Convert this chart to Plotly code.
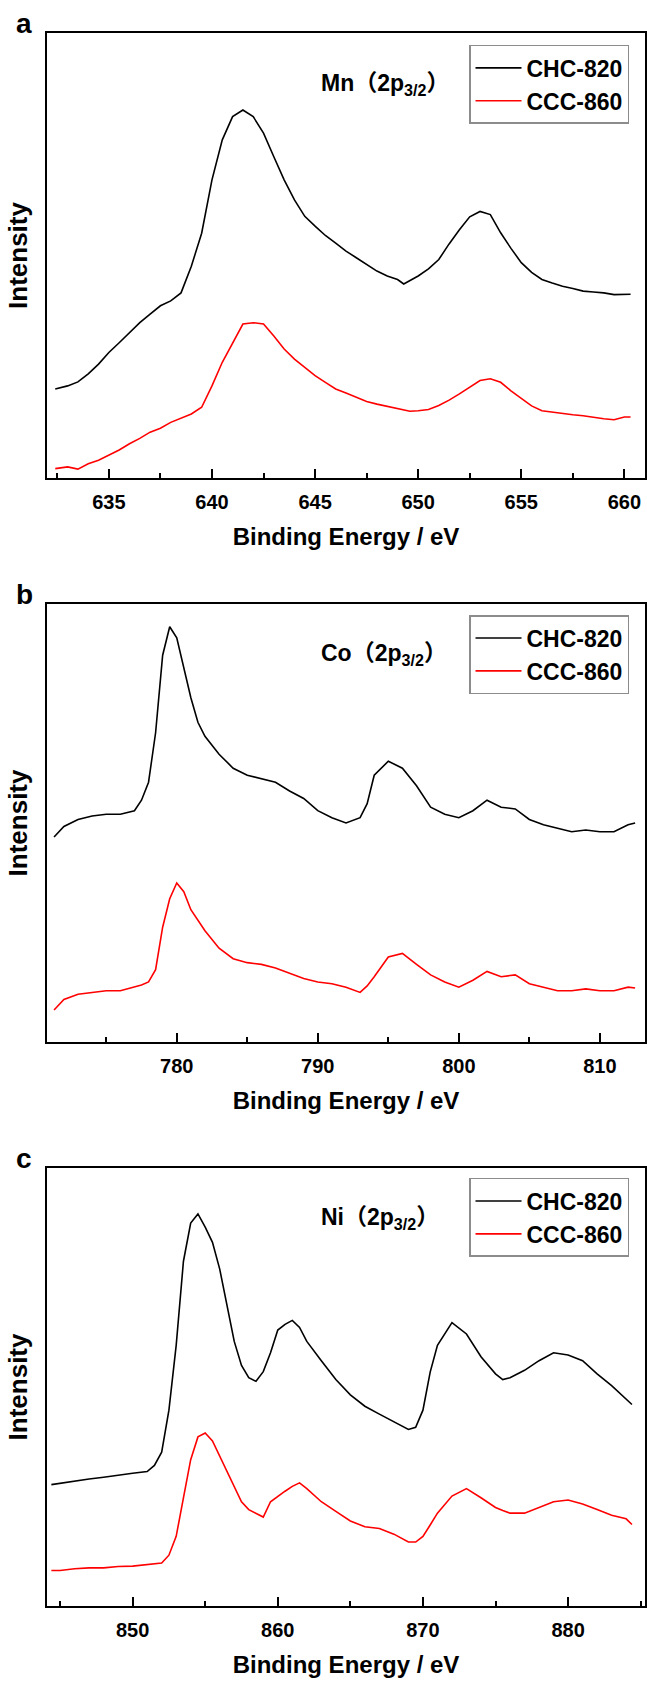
import plotly.graph_objects as go

# ---------------- data (relative intensity 0-100 per panel) -------------
mn_x = [632.4, 633, 633.5, 634, 634.5, 635, 635.5, 636, 636.5, 637, 637.5, 638, 638.5, 639, 639.5,
        640, 640.5, 641, 641.5, 642, 642.5, 643, 643.5, 644, 644.5, 645, 645.5, 646, 646.5, 647,
        647.5, 648, 648.5, 649, 649.3, 649.6, 650, 650.5, 651, 651.5, 652, 652.5, 653, 653.5, 654,
        654.5, 655, 655.5, 656, 656.5, 657, 657.5, 658, 658.5, 659, 659.5, 660, 660.3]
mn_chc = [20.0, 20.7, 21.6, 23.4, 25.6, 28.2, 30.4, 32.7, 34.9, 36.8, 38.7, 39.8, 41.6, 47.6, 55.0,
          67.0, 76.0, 81.2, 82.7, 81.2, 77.5, 72.2, 67.0, 62.5, 58.8, 56.6, 54.5, 52.8, 51.0, 49.5,
          47.9, 46.5, 45.4, 44.6, 43.6, 44.3, 45.4, 47.0, 49.1, 52.6, 55.8, 58.7, 59.9, 59.2, 55.1,
          51.6, 48.4, 46.2, 44.6, 43.8, 43.1, 42.6, 42.0, 41.8, 41.6, 41.2, 41.3, 41.3]
mn_ccc = [2.1, 2.5, 2.0, 3.2, 4.0, 5.1, 6.3, 7.7, 8.9, 10.3, 11.2, 12.5, 13.4, 14.4, 15.9,
          20.7, 26.0, 30.4, 34.6, 34.9, 34.6, 31.9, 29.0, 26.7, 24.8, 23.0, 21.5, 20.0, 19.1, 18.1,
          17.2, 16.6, 16.1, 15.5, 15.3, 15.0, 15.1, 15.4, 16.3, 17.5, 18.9, 20.5, 21.9, 22.3, 21.5,
          19.6, 17.8, 16.2, 15.1, 14.8, 14.4, 14.2, 14.0, 13.6, 13.3, 13.1, 13.7, 13.7]

co_x = [771.3, 772, 773, 774, 775, 776, 777, 777.5, 778, 778.5, 779, 779.5, 780, 780.5, 781,
        781.5, 782, 783, 784, 785, 786, 787, 788, 789, 790, 791, 792, 793, 793.5, 794, 795, 796,
        797, 798, 799, 800, 801, 802, 803, 804, 805, 806, 807, 808, 809, 810, 811, 812, 812.5]
co_chc = [46.8, 49.2, 50.8, 51.6, 52.0, 52.0, 52.8, 55.2, 59.3, 70.6, 88.3, 94.8, 92.3, 85.1, 78.6,
          73.0, 69.8, 65.7, 62.5, 60.9, 60.1, 59.3, 57.3, 55.6, 52.8, 51.2, 50.0, 51.2, 54.4, 60.9,
          64.1, 62.5, 58.5, 53.6, 52.0, 51.2, 52.8, 55.2, 53.6, 53.2, 50.8, 49.6, 48.8, 48.0, 48.4,
          48.0, 48.0, 49.6, 50.0]
co_ccc = [7.3, 9.7, 10.9, 11.3, 11.7, 11.7, 12.5, 13.0, 13.7, 16.5, 26.2, 32.7, 36.3, 34.3, 30.2,
          27.8, 25.4, 21.4, 19.0, 18.1, 17.7, 16.9, 15.7, 14.5, 13.7, 13.3, 12.5, 11.3, 12.8, 14.9,
          19.4, 20.2, 17.7, 15.3, 13.7, 12.5, 14.1, 16.1, 14.9, 15.3, 13.3, 12.5, 11.7, 11.7, 12.1,
          11.7, 11.7, 12.5, 12.3]

ni_x = [844.4, 845, 846, 847, 848, 849, 850, 851, 851.5, 852, 852.5, 853, 853.5, 854, 854.5,
        855, 855.5, 856, 856.5, 857, 857.5, 858, 858.5, 859, 859.5, 860, 860.5, 861, 861.5, 862,
        863, 864, 865, 866, 867, 868, 869, 869.5, 870, 870.5, 871, 872, 873, 874, 875, 875.5, 876,
        877, 878, 879, 880, 881, 882, 883, 884, 884.4]
ni_chc = [27.7, 28.0, 28.6, 29.0, 29.4, 29.9, 30.3, 30.7, 32.1, 35.1, 44.7, 59.5, 78.7, 87.4, 89.5,
          86.5, 83.0, 76.9, 68.2, 60.4, 54.9, 52.1, 51.3, 53.5, 57.8, 63.0, 64.3, 65.2, 63.6, 60.4,
          56.0, 51.7, 48.2, 45.6, 43.8, 42.1, 40.3, 40.8, 44.7, 53.4, 59.5, 64.7, 62.1, 56.9, 53.0,
          51.7, 52.1, 53.8, 56.0, 57.8, 57.3, 56.0, 53.0, 50.3, 47.3, 46.0]
ni_ccc = [8.1, 8.1, 8.5, 8.7, 8.7, 9.0, 9.1, 9.4, 9.6, 9.8, 11.6, 15.9, 24.7, 33.4, 38.6,
          39.5, 37.7, 34.2, 30.7, 27.3, 23.8, 22.0, 21.2, 20.3, 23.8, 25.1, 26.2, 27.3, 28.1, 26.8,
          23.8, 21.6, 19.4, 18.1, 17.7, 16.4, 14.6, 14.6, 15.9, 18.5, 21.2, 25.1, 26.8, 24.7, 22.5,
          21.8, 21.2, 21.2, 22.5, 23.8, 24.2, 23.3, 22.0, 20.7, 19.9, 18.6]

series_names = ["CHC-820", "CCC-860"]
series_colors = ["#000000", "#ff0000"]
panel_letters = ["a", "b", "c"]
panel_elements = ["Mn", "Co", "Ni"]
x_ranges = [[632, 661], [770.8, 813.2], [844.1, 885.3]]
x_dticks = [5, 10, 10]
panels = [
    (mn_x, mn_chc, mn_ccc),
    (co_x, co_chc, co_ccc),
    (ni_x, ni_chc, ni_ccc),
]

# ---------------- layout geometry ----------------
W, H = 647, 1681
ML, MR, MT, MB = 47, 2, 33, 75
domains = [[0.7171, 1.0], [0.3586, 0.6370], [0.0, 0.2785]]
legend_y = [0.9924, 0.630, 0.2721]

FONT = "Arial, 'Liberation Sans', 'Noto Sans CJK SC', sans-serif"

fig = go.Figure()
layout_axes = {}
annotations = []

for i, (xs, y1, y2) in enumerate(panels):
    n = "" if i == 0 else str(i + 1)
    xa, ya = "x" + n, "y" + n
    leg = "legend" + n
    for name, col, ys in zip(series_names, series_colors, [y1, y2]):
        fig.add_trace(go.Scatter(
            x=xs, y=ys, mode="lines", name=name,
            line=dict(color=col, width=1.6),
            xaxis=xa, yaxis=ya, legend=leg, showlegend=True,
        ))
    layout_axes["xaxis" + n] = dict(
        domain=[0, 1], anchor=ya, range=x_ranges[i],
        showline=True, linecolor="black", linewidth=2.2, mirror=True,
        ticks="inside", ticklen=9, tickwidth=2, tickcolor="black",
        dtick=x_dticks[i], tick0=0, ticklabelstandoff=5,
        minor=dict(dtick=x_dticks[i] / 2, ticks="inside", ticklen=5, tickwidth=2,
                   tickcolor="black", showgrid=False),
        showgrid=False, zeroline=False,
        tickfont=dict(family=FONT, size=20, color="black", weight="bold"),
        title=dict(text="Binding Energy / eV", standoff=16,
                   font=dict(family=FONT, size=24, color="black", weight="bold")),
    )
    layout_axes["yaxis" + n] = dict(
        domain=domains[i], anchor=xa, range=[0, 100],
        showline=True, linecolor="black", linewidth=2.2, mirror=True,
        ticks="", showticklabels=False, showgrid=False, zeroline=False,
        title=dict(text="Intensity", standoff=10,
                   font=dict(family=FONT, size=26, color="black", weight="bold")),
    )
    layout_axes[leg] = dict(
        x=0.7057, xanchor="left", y=legend_y[i], yanchor="top",
        bgcolor="white", bordercolor="#8c8c8c", borderwidth=1.5,
        font=dict(family=FONT, size=23, color="black", weight="bold"),
        tracegroupgap=0, itemwidth=46,
    )
    # panel letter
    annotations.append(dict(
        text=panel_letters[i], xref="paper", yref="paper",
        x=-0.056, y=domains[i][1], xanchor="left", yanchor="bottom", yshift=-8,
        showarrow=False, font=dict(family=FONT, size=28, color="black", weight="bold"),
    ))
    # element label
    annotations.append(dict(
        text=panel_elements[i] + "（2p<sub>3/2</sub>）",
        xref=xa + " domain", yref=ya + " domain",
        x=0.455, y=0.885, xanchor="left", yanchor="middle",
        showarrow=False, font=dict(family=FONT, size=23, color="black", weight="bold"),
    ))

fig.update_layout(
    width=W, height=H,
    margin=dict(l=ML, r=MR, t=MT, b=MB, autoexpand=False),
    paper_bgcolor="white", plot_bgcolor="white",
    annotations=annotations,
    **layout_axes,
)

fig.write_html(
    "out.html",
    config={"displayModeBar": False},
    post_script="document.body.style.margin='0';document.body.style.overflow='hidden';",
)
